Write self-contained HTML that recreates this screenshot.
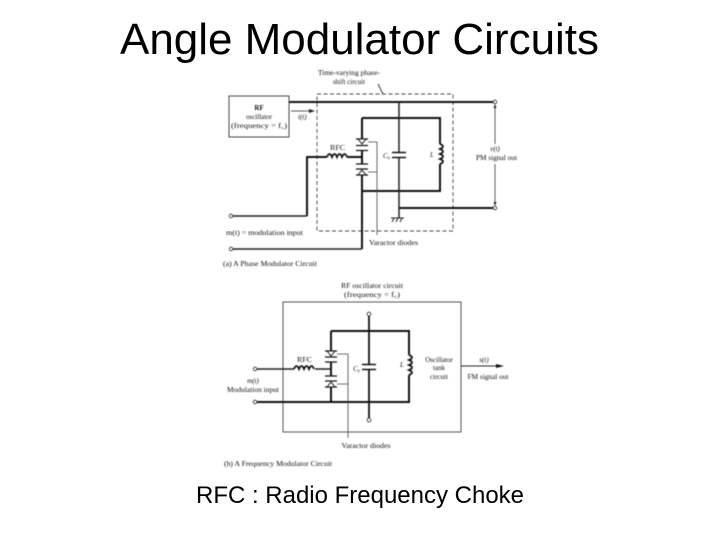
<!DOCTYPE html>
<html><head><meta charset="utf-8"><style>
html,body{margin:0;padding:0;background:#fff}
svg{display:block}
.t{font-family:"Liberation Sans",sans-serif;fill:#000}
.s{font-family:"Liberation Serif",serif;font-size:7px;fill:#111}
.k{stroke:#111;fill:none;stroke-width:2}
.c{stroke:#222;fill:#fff;stroke-width:.8}
</style></head><body>
<svg width="720" height="540" viewBox="0 0 720 540" xmlns="http://www.w3.org/2000/svg">
<rect width="720" height="540" fill="#fff"/>
<text class="t" x="359.500" y="54" font-size="44" text-anchor="middle" textLength="479" lengthAdjust="spacingAndGlyphs">Angle Modulator Circuits</text>
<text class="t" x="360" y="503" font-size="24" text-anchor="middle" textLength="328" lengthAdjust="spacingAndGlyphs">RFC : Radio Frequency Choke</text>

<g style="filter:blur(.4px)">
<!-- diagram a -->
<rect x="229" y="96" width="60" height="41" fill="#fff" stroke="#444" stroke-width="1"/>
<rect x="317" y="94" width="136" height="137" fill="none" stroke="#444" stroke-width=".9" stroke-dasharray="4 2.500"/>
<path stroke="#333" fill="none" stroke-width="1" d="M378 84L383 94"/>
<path class="k" d="M289 102H493M399 208H493M362 118H440V144M440 164V191H362M307 216V157H327M347 157H362M362 191V249M362 118V139M362 150V157M362 157V164M362 175V191"/>
<path d="M233 216H307M233 249H362" stroke="#222" stroke-width="1.600" fill="none"/>
<path d="M399 102V152M399 158V218" stroke="#222" stroke-width="1.500" fill="none"/>
<path d="M392 152.500H406M392 157.500H406" stroke="#111" stroke-width="1.500"/>
<path d="M327 157q2.500-6 5 0q2.500-6 5 0q2.500-6 5 0q2.500-6 5 0" fill="none" stroke="#111" stroke-width="1.800"/>
<path d="M440 144q6 2.500 0 5q6 2.500 0 5q6 2.500 0 5q6 2.500 0 5" fill="none" stroke="#111" stroke-width="1.800"/>
<path d="M356 139H368M356 145.500H368M356 150.500H368M356 164H368M356 169H368M356 175H368" stroke="#111" stroke-width="1.300"/>
<path d="M358 139L362 144L366 139ZM358 175L362 170L366 175Z" fill="#fff" stroke="#111" stroke-width="1"/>
<path d="M368 142H377V235M368 172H377" fill="none" stroke="#444" stroke-width=".8"/>
<path d="M391 218H404M392 222l2-4M396 222l2-4M400 222l2-4" stroke="#222" stroke-width="1"/>
<path d="M291 111H311" stroke="#222" stroke-width=".8"/><path d="M315 111L309 109V113Z" fill="#222"/>
<path d="M495 106V144M495 164V204" stroke="#333" stroke-width=".8"/>
<path d="M495 104L493.500 108H496.500ZM495 206L493.500 202H496.500Z" fill="#222"/>
<circle class="c" cx="495" cy="102" r="1.800"/><circle class="c" cx="495" cy="208" r="1.800"/>
<circle class="c" cx="231" cy="216" r="1.800"/><circle class="c" cx="231" cy="249" r="1.800"/>
<text class="s" x="349" y="75" text-anchor="middle" textLength="62" lengthAdjust="spacingAndGlyphs">Time-varying phase-</text>
<text class="s" x="349" y="84" text-anchor="middle">shift circuit</text>
<text class="s" x="259" y="110" text-anchor="middle" font-weight="bold">RF</text>
<text class="s" x="259" y="119" text-anchor="middle">oscillator</text>
<text class="s" x="259" y="128" text-anchor="middle" textLength="56" lengthAdjust="spacingAndGlyphs">(frequency = f꜀)</text>
<text class="s" x="298" y="119" font-style="italic">i(t)</text>
<text class="s" x="330" y="150" textLength="15" lengthAdjust="spacingAndGlyphs">RFC</text>
<text class="s" x="383" y="158" font-style="italic">C₀</text>
<text class="s" x="430" y="157" font-style="italic">L</text>
<text class="s" x="495" y="151" font-style="italic" text-anchor="middle">v(t)</text>
<text class="s" x="476" y="160" textLength="41" lengthAdjust="spacingAndGlyphs">PM signal out</text>
<text class="s" x="226" y="235" textLength="77" lengthAdjust="spacingAndGlyphs">m(t) = modulation input</text>
<text class="s" x="369" y="245" textLength="49" lengthAdjust="spacingAndGlyphs">Varactor diodes</text>
<text class="s" x="223" y="266" textLength="94" lengthAdjust="spacingAndGlyphs">(a) A Phase Modulator Circuit</text>

<!-- diagram b -->
<rect x="283" y="302" width="178" height="130" fill="none" stroke="#555" stroke-width="1"/>
<path class="k" d="M331 331H409V355M409 375V402H255M331 331V351M331 362V369M331 369V376M331 387V402"/>
<path d="M257 369H294M315 369H331" stroke="#222" stroke-width="1.500" fill="none"/>
<path d="M369 316V364M369 369V418" stroke="#111" stroke-width="1.800" fill="none"/>
<path d="M362 364.500H376M362 369.500H376" stroke="#111" stroke-width="1.500"/>
<path d="M294 369q2.500-6 5 0q2.500-6 5 0q2.500-6 5 0q2.500-6 5 0" fill="none" stroke="#111" stroke-width="1.800"/>
<path d="M409 355q6 2.500 0 5q6 2.500 0 5q6 2.500 0 5q6 2.500 0 5" fill="none" stroke="#111" stroke-width="1.800"/>
<path d="M325 351H337M325 357H337M325 362H337M325 376H337M325 381H337M325 387H337" stroke="#111" stroke-width="1.300"/>
<path d="M327 351L331 356L335 351ZM327 387L331 382L335 387Z" fill="#fff" stroke="#111" stroke-width="1"/>
<path d="M337 354H348V438M337 384H348" fill="none" stroke="#444" stroke-width=".8"/>
<path d="M461 366H500" stroke="#222" stroke-width="1"/><path d="M504 366L496 364V368Z" fill="#111"/>
<circle class="c" cx="369" cy="314" r="1.900"/><circle class="c" cx="369" cy="420" r="1.900"/>
<circle class="c" cx="255" cy="369" r="1.800"/><circle class="c" cx="255" cy="402" r="1.800"/>
<text class="s" x="372" y="288" text-anchor="middle" textLength="62" lengthAdjust="spacingAndGlyphs">RF oscillator circuit</text>
<text class="s" x="372" y="297" text-anchor="middle" textLength="56" lengthAdjust="spacingAndGlyphs">(frequency = f꜀)</text>
<text class="s" x="297" y="362" textLength="15" lengthAdjust="spacingAndGlyphs">RFC</text>
<text class="s" x="353" y="371" font-style="italic">C₀</text>
<text class="s" x="400" y="367" font-style="italic">L</text>
<text class="s" x="439" y="362" text-anchor="middle">Oscillator</text>
<text class="s" x="439" y="370" text-anchor="middle">tank</text>
<text class="s" x="439" y="379" text-anchor="middle">circuit</text>
<text class="s" x="484" y="362" text-anchor="middle" font-style="italic">s(t)</text>
<text class="s" x="488" y="379" text-anchor="middle" textLength="41" lengthAdjust="spacingAndGlyphs">FM signal out</text>
<text class="s" x="253" y="383" text-anchor="middle" font-style="italic">m(t)</text>
<text class="s" x="253" y="392" text-anchor="middle" textLength="52" lengthAdjust="spacingAndGlyphs">Modulation input</text>
<text class="s" x="366" y="448" text-anchor="middle" textLength="49" lengthAdjust="spacingAndGlyphs">Varactor diodes</text>
<text class="s" x="224" y="466" textLength="108" lengthAdjust="spacingAndGlyphs">(b) A Frequency Modulator Circuit</text>
</g>
</svg>
</body></html>
